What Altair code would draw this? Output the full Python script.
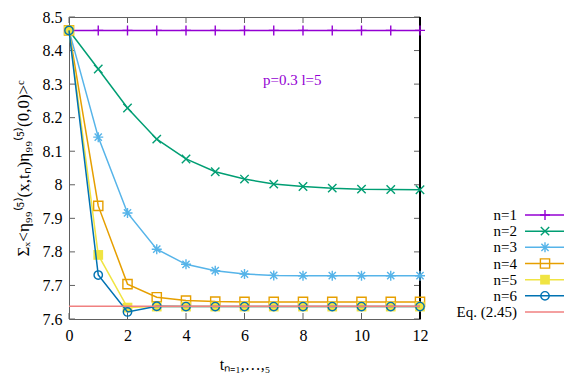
import altair as alt
import pandas as pd

FONT = "'Liberation Serif', 'Times New Roman', Times, serif"
W, H = 351, 302

t_vals = [0, 1, 2, 3, 4, 5, 6, 7, 8, 9, 10, 11, 12]
n1 = [8.460, 8.460, 8.460, 8.460, 8.460, 8.460, 8.460, 8.460, 8.460, 8.460, 8.460, 8.460, 8.460]
n2 = [8.460, 8.345, 8.229, 8.136, 8.077, 8.039, 8.017, 8.002, 7.995, 7.990, 7.987, 7.986, 7.985]
n3 = [8.460, 8.142, 7.916, 7.808, 7.763, 7.744, 7.734, 7.730, 7.729, 7.729, 7.729, 7.729, 7.729]
n4 = [8.460, 7.937, 7.704, 7.665, 7.655, 7.652, 7.651, 7.651, 7.651, 7.651, 7.651, 7.651, 7.651]
n5 = [8.460, 7.791, 7.634, 7.637, 7.637, 7.637, 7.637, 7.637, 7.637, 7.637, 7.637, 7.637, 7.637]
n6 = [8.460, 7.731, 7.621, 7.638, 7.637, 7.637, 7.637, 7.637, 7.637, 7.637, 7.637, 7.637, 7.637]
eq_value = [7.638]

series_names = ["n=1", "n=2", "n=3", "n=4", "n=5", "n=6"]
eq_name = "Eq. (2.45)"
all_names = series_names + [eq_name]
colors = ["#9400d3", "#009e73", "#56b4e9", "#e69f00", "#f0e442", "#0072b2", "#f08080"]

x_ticks = [0, 2, 4, 6, 8, 10, 12]
y_ticks = [7.6, 7.7, 7.8, 7.9, 8.0, 8.1, 8.2, 8.3, 8.4, 8.5]

annot_t = [6.63]
annot_v = [8.312]
annot_text = ["p=0.3 l=5"]

# marker styles
PLUS = "M-1,0L1,0M0,-1L0,1"
XMARK = "M-0.8,-0.8L0.8,0.8M0.8,-0.8L-0.8,0.8"
STAR = "M-1,0L1,0M0,-1L0,1M-0.72,-0.72L0.72,0.72M0.72,-0.72L-0.72,0.72"
marker_specs = [
    dict(shape=PLUS, filled=False, size=100),
    dict(shape=XMARK, filled=False, size=110),
    dict(shape=STAR, filled=False, size=100),
    dict(shape="square", filled=False, size=85),
    dict(shape="square", filled=True, size=95),
    dict(shape="circle", filled=False, size=70),
]

rows = []
for name, vals in zip(series_names, [n1, n2, n3, n4, n5, n6]):
    for tt, v in zip(t_vals, vals):
        rows.append({"series": name, "t": tt, "value": v})
df = pd.DataFrame(rows)

color_scale = alt.Scale(domain=all_names, range=colors)
x_scale = alt.Scale(domain=[0, 12], nice=False)
y_scale = alt.Scale(domain=[7.6, 8.5], nice=False, zero=False)

x_axis = alt.Axis(values=x_ticks, format="d", labelPadding=8, titlePadding=13,
                  labelFlush=False, title="tₙ₌₁,…,₅")
y_axis = alt.Axis(values=y_ticks, labelPadding=7, titlePadding=10, labelFlush=False,
                  labelExpr="datum.value == 8 ? '8' : format(datum.value, '.1f')",
                  title="Σₓ<η₉₉⁽⁵⁾(x,tₙ)η₉₉⁽⁵⁾(0,0)>ᶜ", titleFontSize=17)


def X(field):
    return alt.X(field, type="quantitative", scale=x_scale, axis=x_axis)


def Y(field):
    return alt.Y(field, type="quantitative", scale=y_scale, axis=y_axis)


frame_color = "#606060"
main_layers = []

# inward ticks (mirror on all sides)
ytick_df = pd.DataFrame({"v": y_ticks})
xtick_df = pd.DataFrame({"v": x_ticks})
main_layers.append(alt.Chart(ytick_df).mark_rule(color=frame_color, strokeWidth=1).encode(
    y=Y("v"), x=alt.value(0), x2=alt.value(6)))
main_layers.append(alt.Chart(ytick_df).mark_rule(color=frame_color, strokeWidth=1).encode(
    y=Y("v"), x=alt.value(W - 6), x2=alt.value(W)))
main_layers.append(alt.Chart(xtick_df).mark_rule(color=frame_color, strokeWidth=1).encode(
    x=X("v"), y=alt.value(H - 6), y2=alt.value(H)))
main_layers.append(alt.Chart(xtick_df).mark_rule(color=frame_color, strokeWidth=1).encode(
    x=X("v"), y=alt.value(0), y2=alt.value(6)))
# right border in black
main_layers.append(alt.Chart(xtick_df).mark_rule(color="black", strokeWidth=1.2).encode(
    x=alt.value(W), y=alt.value(0), y2=alt.value(H)))

for i, name in enumerate(series_names):
    base = alt.Chart(df).transform_filter(alt.datum.series == name)
    enc = dict(
        x=X("t"),
        y=Y("value"),
        color=alt.Color("series:N", scale=color_scale, legend=None),
    )
    main_layers.append(base.mark_line(strokeWidth=1.5).encode(**enc))
    main_layers.append(base.mark_point(strokeWidth=1.4, opacity=1, **marker_specs[i]).encode(**enc))

# Eq. (2.45) reference line
eq_df = pd.DataFrame({"series": [eq_name], "value": eq_value, "t0": [0], "t1": [12]})
main_layers.append(alt.Chart(eq_df).mark_rule(strokeWidth=1.5).encode(
    x=X("t0"), x2="t1:Q",
    y=Y("value"),
    color=alt.Color("series:N", scale=color_scale, legend=None)))

# annotation
annot_df = pd.DataFrame({"t": annot_t, "value": annot_v, "label": annot_text})
main_layers.append(alt.Chart(annot_df).mark_text(
    align="left", baseline="middle", font=FONT, fontSize=15, color="#9400d3").encode(
    x=X("t"), y=Y("value"), text="label:N"))

main = alt.layer(*main_layers)

# legend (gnuplot style: label then sample)
leg_df = pd.DataFrame({"series": all_names})
leg_y = alt.Y("series:N", scale=alt.Scale(type="point", domain=all_names, range=[198, 295], padding=0), axis=None)
legend_layers = [
    alt.Chart(leg_df).mark_text(align="right", baseline="middle", font=FONT, fontSize=15, color="black").encode(
        y=leg_y, x=alt.value(448), text="series:N"),
    alt.Chart(leg_df).mark_rule(strokeWidth=1.5).encode(
        y=leg_y, x=alt.value(456), x2=alt.value(495),
        color=alt.Color("series:N", scale=color_scale, legend=None)),
]
for i, name in enumerate(series_names):
    legend_layers.append(alt.Chart(leg_df).transform_filter(alt.datum.series == name).mark_point(
        strokeWidth=1.4, opacity=1, **marker_specs[i]).encode(
        y=leg_y, x=alt.value(476),
        color=alt.Color("series:N", scale=color_scale, legend=None)))
legend = alt.layer(*legend_layers)

chart = alt.layer(main, legend).resolve_scale(y="independent").properties(
    width=W, height=H,
    padding={"left": 61, "top": 9, "right": 153, "bottom": 61},
    autosize=alt.AutoSizeParams(type="none"),
).configure_view(stroke=frame_color, strokeWidth=1).configure_axis(
    labelFont=FONT, labelFontSize=16, labelColor="black",
    titleFont=FONT, titleFontSize=16, titleColor="black", titleFontWeight="normal",
    ticks=False, domain=False, grid=False,
)

chart.save("out.html", embed_options={"renderer": "svg", "actions": False})
